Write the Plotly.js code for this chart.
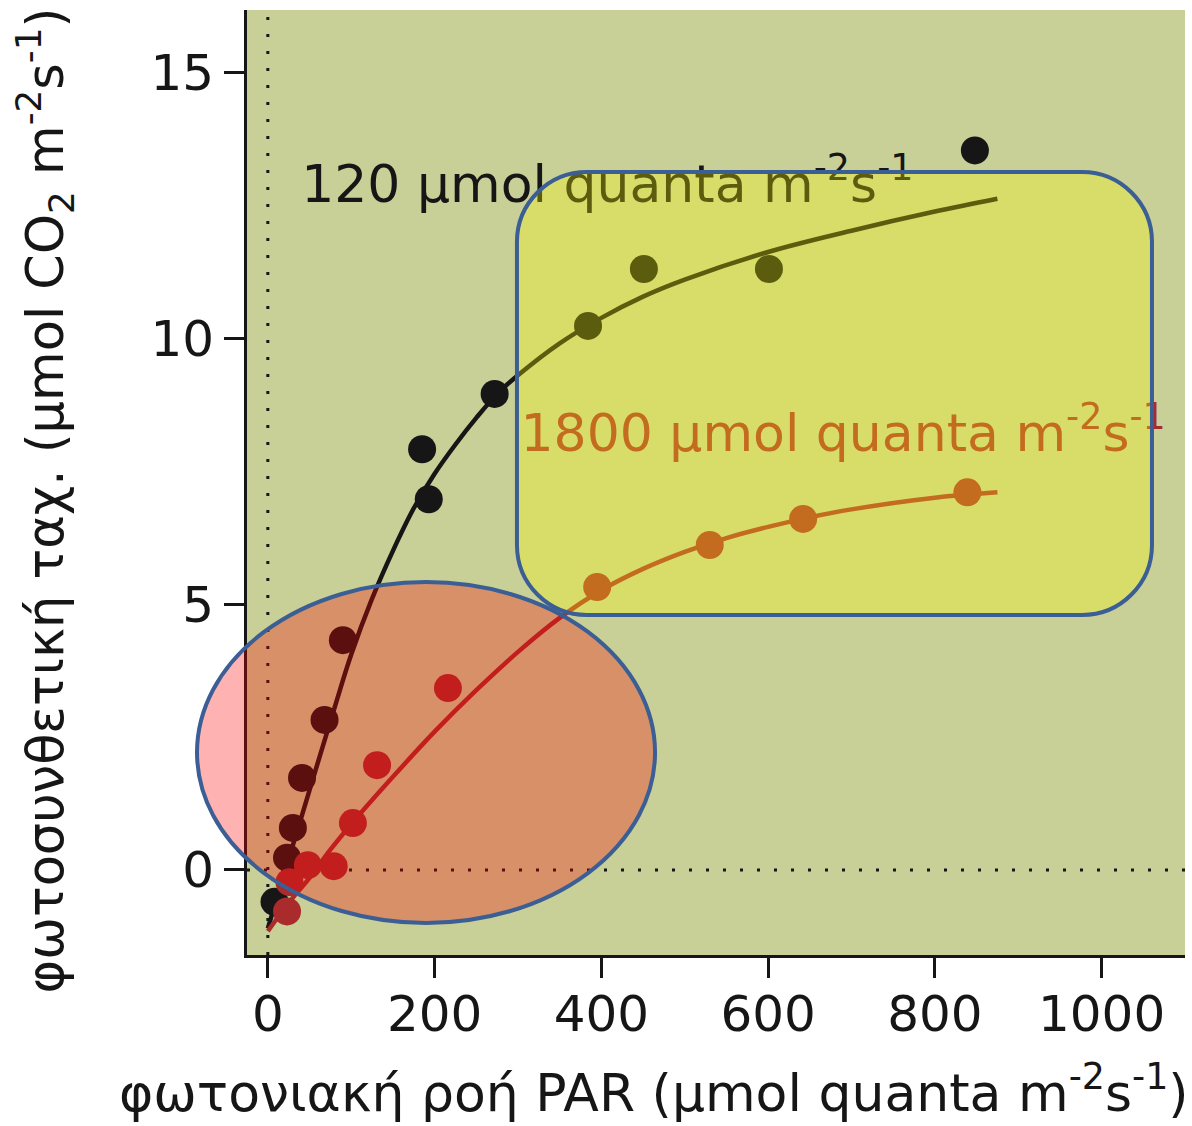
<!DOCTYPE html>
<html>
<head>
<meta charset="utf-8">
<script src="https://cdn.plot.ly/plotly-3.0.1.min.js"></script>
<style>html,body{margin:0;padding:0;background:#fff;}#chart{width:1192px;height:1126px;}</style>
</head>
<body>
<div id="chart"></div>
<script>
// Measured points, 120 µmol quanta m-2 s-1 growth light
const lowX = [8, 23, 30, 41, 68, 90, 185, 193, 272, 384, 451, 601, 848];
const lowY = [-0.6, 0.23, 0.79, 1.73, 2.82, 4.32, 7.91, 6.97, 8.95, 10.23, 11.3, 11.3, 13.53];
// Fitted curve, 120
const lowFitX = [0, 20, 40, 60, 80, 100, 125, 150, 175, 200, 225, 250, 275, 300, 350, 400, 450, 500, 600, 700, 800, 875];
const lowFitY = [-1.1, -0.05, 0.98, 2.02, 3.05, 4.05, 5.1, 6.0, 6.8, 7.45, 8.0, 8.5, 8.95, 9.3, 9.9, 10.38, 10.78, 11.1, 11.62, 12.02, 12.38, 12.62];
// Measured points, 1800 µmol quanta m-2 s-1 growth light
const highX = [23, 26, 48, 79, 102, 131, 216, 395, 530, 642, 839];
const highY = [-0.78, -0.23, 0.09, 0.07, 0.88, 1.97, 3.42, 5.32, 6.11, 6.6, 7.1];
// Fitted curve, 1800
const highFitX = [0, 25, 50, 75, 100, 150, 200, 250, 300, 350, 400, 450, 500, 550, 600, 650, 700, 800, 875];
const highFitY = [-1.15, -0.62, -0.15, 0.38, 0.86, 1.75, 2.6, 3.38, 4.1, 4.74, 5.26, 5.66, 5.98, 6.24, 6.45, 6.63, 6.78, 7.0, 7.1];

const xTicks = [0, 200, 400, 600, 800, 1000];
const yTicks = [0, 5, 10, 15];
const labelLow = '120 μmol quanta m<sup>-2</sup>s<sup>-1</sup>';
const labelHigh = '1800 μmol quanta m<sup>-2</sup>s<sup>-1</sup>';
const labelLowPos = [40, 12.8];
const labelHighPos = [303, 8.13];
const xTitle = 'φωτονιακή ροή PAR (μmol quanta m<sup>-2</sup>s<sup>-1</sup>)';
const yTitle = 'φωτοσυνθετική ταχ. (μmol CO<sub>2</sub> m<sup>-2</sup>s<sup>-1</sup>)';

const FONT = 'DejaVu Sans, Verdana, sans-serif';
const INK = '#161616';
const RED = '#aa2b2b';

const traces = [
  {x: lowFitX, y: lowFitY, mode: 'lines', line: {color: INK, width: 4.5, shape: 'spline', smoothing: 1}, hoverinfo: 'skip'},
  {x: lowX, y: lowY, mode: 'markers', marker: {color: INK, size: 28, line: {width: 0}}, hoverinfo: 'skip'},
  {x: highFitX, y: highFitY, mode: 'lines', line: {color: RED, width: 4.5, shape: 'spline', smoothing: 1}, hoverinfo: 'skip'},
  {x: highX, y: highY, mode: 'markers', marker: {color: RED, size: 28, line: {width: 0}}, hoverinfo: 'skip'},
  {x: [labelLowPos[0]], y: [labelLowPos[1]], mode: 'text', text: [labelLow], textposition: 'middle right',
   textfont: {family: FONT, size: 52, color: INK}, hoverinfo: 'skip', cliponaxis: false},
  {x: [labelHighPos[0]], y: [labelHighPos[1]], mode: 'text', text: [labelHigh], textposition: 'middle right',
   textfont: {family: FONT, size: 52, color: RED}, hoverinfo: 'skip', cliponaxis: false}
];

// rounded rectangle path (paper coords)
function roundRect(x0, y0, x1, y1, rx, ry) {
  const k = 0.5523;
  return `M ${x0 + rx},${y1} L ${x1 - rx},${y1} ` +
    `C ${x1 - rx + k * rx},${y1} ${x1},${y1 - ry + k * ry} ${x1},${y1 - ry} ` +
    `L ${x1},${y0 + ry} ` +
    `C ${x1},${y0 + ry - k * ry} ${x1 - rx + k * rx},${y0} ${x1 - rx},${y0} ` +
    `L ${x0 + rx},${y0} ` +
    `C ${x0 + rx - k * rx},${y0} ${x0},${y0 + ry - k * ry} ${x0},${y0 + ry} ` +
    `L ${x0},${y1 - ry} ` +
    `C ${x0},${y1 - ry + k * ry} ${x0 + rx - k * rx},${y1} ${x0 + rx},${y1} Z`;
}

const BLUE = '#3b5f94';
const shapes = [
  {type: 'line', xref: 'x', yref: 'paper', x0: 0, x1: 0, y0: 0, y1: 1, layer: 'below',
   line: {color: INK, width: 3, dash: '3px,14px'}},
  {type: 'line', xref: 'paper', yref: 'y', x0: 0, x1: 1, y0: 0, y1: 0, layer: 'below',
   line: {color: INK, width: 3, dash: '3px,14px'}},
  {type: 'circle', xref: 'paper', yref: 'paper', x0: -0.0533, x1: 0.435, y0: 0.0339, y1: 0.3947,
   fillcolor: 'rgba(255,0,0,0.3)', line: {color: BLUE, width: 4}, layer: 'above'},
  {type: 'path', xref: 'paper', yref: 'paper', path: roundRect(0.2878, 0.3598, 0.9648, 0.8286, 0.0746, 0.0741),
   fillcolor: 'rgba(255,255,0,0.3)', line: {color: BLUE, width: 4}, layer: 'above'}
];

const annotations = [
  {text: xTitle, xref: 'paper', yref: 'paper', x: 0.434, y: -0.142, xanchor: 'center', yanchor: 'middle',
   showarrow: false, font: {family: FONT, size: 52, color: INK}},
  {text: yTitle, xref: 'paper', yref: 'paper', x: -0.2154, y: 0.481, xanchor: 'center', yanchor: 'middle',
   textangle: -90, showarrow: false, font: {family: FONT, size: 51, color: INK}}
];

const layout = {
  width: 1192, height: 1126,
  margin: {l: 247, r: 7, t: 10, b: 171},
  paper_bgcolor: '#ffffff',
  plot_bgcolor: '#c8cf97',
  showlegend: false,
  font: {family: FONT, color: INK},
  xaxis: {
    range: [-25, 1100], tickvals: xTicks, ticktext: xTicks.map(String),
    showgrid: false, zeroline: false, showline: true, linecolor: INK, linewidth: 3,
    ticks: 'outside', ticklen: 20, tickwidth: 3, tickcolor: INK, ticklabelstandoff: -7,
    tickfont: {family: FONT, size: 50, color: INK}
  },
  yaxis: {
    range: [-1.6, 16.17], tickvals: yTicks, ticktext: yTicks.map(String),
    showgrid: false, zeroline: false, showline: true, linecolor: INK, linewidth: 3,
    ticks: 'outside', ticklen: 20, tickwidth: 3, tickcolor: INK,
    tickfont: {family: FONT, size: 50, color: INK}
  },
  shapes: shapes,
  annotations: annotations
};

Plotly.newPlot('chart', traces, layout, {displayModeBar: false, staticPlot: true});
</script>
</body>
</html>
